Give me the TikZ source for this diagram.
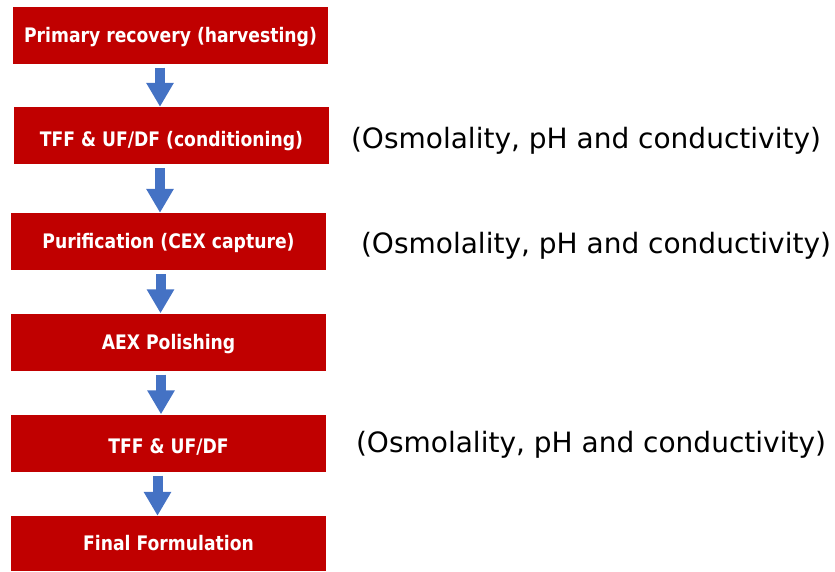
\documentclass[tikz,border=0pt]{standalone}
\usepackage{fontspec}
\setmainfont{DejaVu Sans}
\newfontfamily\boxfont[FakeStretch=0.86]{DejaVu Sans}
\usetikzlibrary{arrows.meta}
\definecolor{boxred}{HTML}{C00000}
\definecolor{arrblue}{HTML}{4472C4}
\tikzset{
  stepbox/.style={fill=boxred, draw=none, minimum width=315pt, minimum height=57pt,
    inner sep=0pt, text=white, text height=14.6pt, text depth=0pt,
    font=\boxfont\bfseries\fontsize{20}{24}\selectfont},
  lowtext/.style={text height=21.6pt},
  blockarrow/.style={draw=arrblue, line width=10pt,
    -{Triangle[width=26pt,length=24pt]}, arrblue, shorten <=4pt},
  note/.style={font=\fontsize{28}{32}\selectfont, inner sep=0pt}
}
\begin{document}
\begin{tikzpicture}[x=1pt,y=-1pt]
\useasboundingbox (0,0) rectangle (835,571);
\node[stepbox] (b1) at (170.5,35) {Primary recovery (harvesting)\hspace{6pt}};
\node[stepbox, lowtext] (b2) at (171.5,135.5) {TFF \& UF/DF (conditioning)};
\node[stepbox] (b3) at (168.5,241.5) {Purification (CEX capture)};
\node[stepbox] (b4) at (168.5,342) {AEX Polishing};
\node[stepbox, lowtext, minimum height=57pt] (b5) at (168.5,443) {TFF \& UF/DF};
\node[stepbox, minimum height=55pt] (b6) at (168.5,543.5) {Final Formulation};
\draw[blockarrow] ([xshift=-10.5pt]b1.south) -- ([xshift=-11.5pt]b2.north);
\draw[blockarrow] ([xshift=-11.5pt]b2.south) -- ([xshift=-8.5pt]b3.north);
\draw[blockarrow] ([xshift=-8pt]b3.south) -- ([xshift=-8pt]b4.north);
\draw[blockarrow] ([xshift=-7.5pt]b4.south) -- ([xshift=-7.5pt]b5.north);
\draw[blockarrow] ([xshift=-11pt]b5.south) -- ([xshift=-11pt]b6.north);
\node[note] (n1) at (586,141) {(Osmolality, pH and conductivity)};
\node[note] (n2) at (596,246) {(Osmolality, pH and conductivity)};
\node[note] (n3) at (591,445) {(Osmolality, pH and conductivity)};
\end{tikzpicture}
\end{document}
